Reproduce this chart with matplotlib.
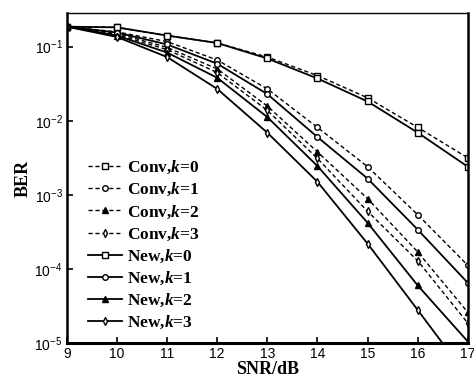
import numpy as np
import matplotlib
matplotlib.use("Agg")
import matplotlib.pyplot as plt
from matplotlib.ticker import LogLocator, NullLocator

# BER vs SNR
snr = [9, 10, 11, 12, 13, 14, 15, 16, 17]

conv_k0 = [0.186, 0.182, 0.141, 0.112, 0.0724, 0.0407, 0.0204, 0.00813, 0.00316]
conv_k1 = [0.186, 0.158, 0.117, 0.066, 0.0269, 0.00813, 0.0024, 5.4e-4, 1.12e-4]
conv_k2 = [0.186, 0.151, 0.0977, 0.0501, 0.0158, 0.0038, 8.9e-4, 1.7e-4, 2.6e-5]
conv_k3 = [0.186, 0.145, 0.0912, 0.0447, 0.0138, 0.0031, 6.0e-4, 1.29e-4, 1.86e-5]

new_k0 = [0.186, 0.182, 0.141, 0.112, 0.0692, 0.0372, 0.0182, 0.00692, 0.0024]
new_k1 = [0.186, 0.155, 0.107, 0.0589, 0.0229, 0.00603, 0.00166, 3.4e-4, 6.5e-5]
new_k2 = [0.186, 0.141, 0.0832, 0.038, 0.0112, 0.00245, 4.2e-4, 6.0e-5, 1.05e-5]
new_k3 = [0.186, 0.135, 0.0724, 0.0269, 0.0069, 0.0015, 2.2e-4, 2.8e-5, 3.5e-6]

labels_conv = ["Conv,$k$=0", "Conv,$k$=1", "Conv,$k$=2", "Conv,$k$=3"]
labels_new = ["New,$k$=0", "New,$k$=1", "New,$k$=2", "New,$k$=3"]

plt.rcParams["mathtext.fontset"] = "custom"
plt.rcParams["mathtext.rm"] = "Liberation Sans"
plt.rcParams["mathtext.it"] = "Liberation Serif:italic:bold"
plt.rcParams["mathtext.bf"] = "Liberation Serif:bold"

fig = plt.figure(figsize=(4.74, 3.80), dpi=100)
ax = fig.add_axes([0.141, 0.097, 0.846, 0.869])

markers = ["s", "o", "^", "d"]
fills = ["white", "white", "black", "white"]
conv = [conv_k0, conv_k1, conv_k2, conv_k3]
new = [new_k0, new_k1, new_k2, new_k3]

for ys, m, fc, lab in zip(conv, markers, fills, labels_conv):
    ax.plot(snr, ys, color="black", linestyle=(0, (3, 2)), linewidth=1.0,
            marker=m, markersize=4, markerfacecolor=fc, markeredgewidth=1.0,
            label=lab)
for ys, m, fc, lab in zip(new, markers, fills, labels_new):
    ax.plot(snr, ys, color="black", linestyle="-", linewidth=1.3,
            marker=m, markersize=4, markerfacecolor=fc, markeredgewidth=1.0,
            label=lab)

ax.set_yscale("log")
ax.set_xlim(9, 17)
ax.set_ylim(1e-5, 0.285)
ax.set_xticks(snr)
ax.yaxis.set_major_locator(LogLocator(base=10, numticks=10))
ax.yaxis.set_minor_locator(NullLocator())

for lbl in ax.get_xticklabels() + ax.get_yticklabels():
    lbl.set_family("Liberation Sans")
ax.tick_params(direction="in", length=4, width=1.2, labelsize=10, pad=3)

ax.spines["left"].set_linewidth(1.8)
ax.spines["bottom"].set_linewidth(2.2)
ax.spines["right"].set_linewidth(1.8)
ax.spines["top"].set_linewidth(1.0)

ax.set_xlabel("SNR/dB", family="Liberation Serif", fontweight="bold",
              fontsize=13, labelpad=0)
ax.set_ylabel("BER", family="Liberation Serif", fontweight="bold",
              fontsize=13, labelpad=2)

leg = ax.legend(loc="lower left", bbox_to_anchor=(0.03, 0.01), frameon=False,
                borderpad=0, handlelength=2.0, handletextpad=0.3,
                labelspacing=0.28,
                prop={"family": "Liberation Serif", "weight": "bold", "size": 12.5})

fig.savefig("out.png", dpi=100)
